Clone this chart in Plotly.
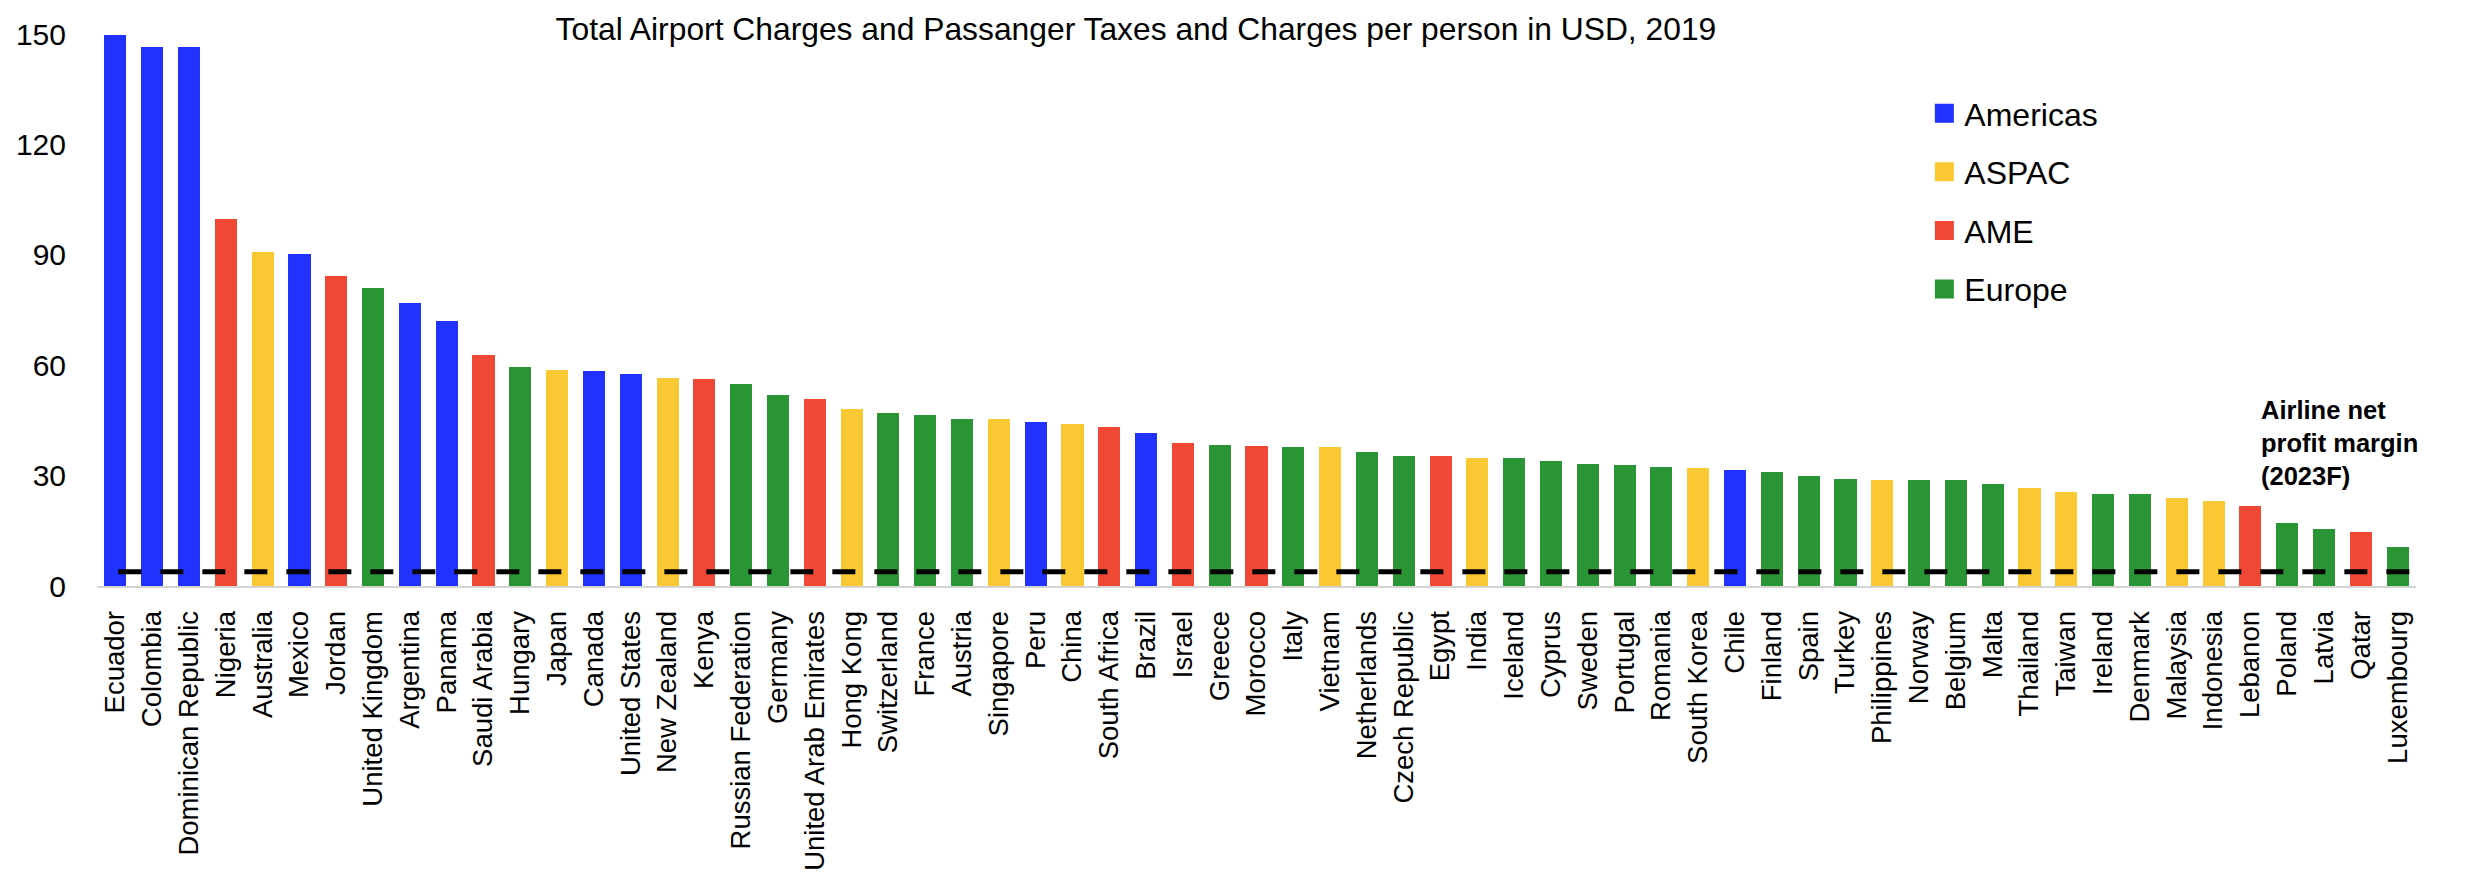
import plotly.graph_objects as go

categories = ["Ecuador", "Colombia", "Dominican Republic", "Nigeria", "Australia", "Mexico", "Jordan",
              "United Kingdom", "Argentina", "Panama", "Saudi Arabia", "Hungary", "Japan", "Canada",
              "United States", "New Zealand", "Kenya", "Russian Federation", "Germany",
              "United Arab Emirates", "Hong Kong", "Switzerland", "France", "Austria", "Singapore",
              "Peru", "China", "South Africa", "Brazil", "Israel", "Greece", "Morocco", "Italy",
              "Vietnam", "Netherlands", "Czech Republic", "Egypt", "India", "Iceland", "Cyprus",
              "Sweden", "Portugal", "Romania", "South Korea", "Chile", "Finland", "Spain", "Turkey",
              "Philippines", "Norway", "Belgium", "Malta", "Thailand", "Taiwan", "Ireland", "Denmark",
              "Malaysia", "Indonesia", "Lebanon", "Poland", "Latvia", "Qatar", "Luxembourg"]

values = [149.8, 146.6, 146.4, 99.6, 90.7, 90.1, 84.3,
          80.9, 76.8, 72.0, 62.9, 59.6, 58.6, 58.3,
          57.7, 56.5, 56.3, 54.8, 51.8,
          50.9, 48.1, 46.9, 46.5, 45.3, 45.3,
          44.5, 44.1, 43.1, 41.5, 38.8, 38.3, 38.0, 37.9,
          37.9, 36.4, 35.2, 35.2, 34.9, 34.7, 34.1,
          33.1, 32.9, 32.4, 32.0, 31.5, 31.0, 30.0, 29.0,
          28.8, 28.8, 28.8, 27.7, 26.7, 25.6, 25.0, 24.9,
          23.8, 23.2, 21.8, 17.2, 15.4, 14.6, 10.7]

regions = ["Americas", "Americas", "Americas", "AME", "ASPAC", "Americas", "AME",
           "Europe", "Americas", "Americas", "AME", "Europe", "ASPAC", "Americas",
           "Americas", "ASPAC", "AME", "Europe", "Europe",
           "AME", "ASPAC", "Europe", "Europe", "Europe", "ASPAC",
           "Americas", "ASPAC", "AME", "Americas", "AME", "Europe", "AME", "Europe",
           "ASPAC", "Europe", "Europe", "AME", "ASPAC", "Europe", "Europe",
           "Europe", "Europe", "Europe", "ASPAC", "Americas", "Europe", "Europe", "Europe",
           "ASPAC", "Europe", "Europe", "Europe", "ASPAC", "ASPAC", "Europe", "Europe",
           "ASPAC", "ASPAC", "AME", "Europe", "Europe", "AME", "Europe"]

region_order = ["Americas", "ASPAC", "AME", "Europe"]
region_colors = {"Americas": "#2132FF", "ASPAC": "#FAC832", "AME": "#F04834", "Europe": "#2A9534"}

profit_margin = 3.9
y_ticks = [0, 30, 60, 90, 120, 150]

FONT = "Liberation Sans"

fig = go.Figure()
for reg in region_order:
    xs = [c for c, r in zip(categories, regions) if r == reg]
    ys = [v for v, r in zip(values, regions) if r == reg]
    fig.add_trace(go.Bar(x=xs, y=ys, name=reg, marker=dict(color=region_colors[reg], line_width=0),
                         showlegend=False, legendgroup=reg))
    fig.add_trace(go.Scatter(x=[None], y=[None], mode="markers", name=reg, legendgroup=reg,
                             marker=dict(symbol="square", size=16, color=region_colors[reg],
                                         line=dict(color=region_colors[reg], width=3))))

n = len(categories)
fig.add_shape(type="line", xref="x", yref="y", x0=0.08, x1=n - 1 + 0.33,
              y0=profit_margin, y1=profit_margin,
              line=dict(color="black", width=5, dash="23px,19px"))

fig.add_annotation(text="<b>Airline net<br>profit margin<br>(2023F)</b>", xref="paper", yref="y",
                   x=0.9325, y=52.3, xanchor="left", yanchor="top", align="left", showarrow=False,
                   font=dict(family=FONT, size=25.5, color="black"))

# the page body adds an 8px offset, so the figure is 8px smaller than the window
fig.update_layout(
    width=2460, height=867,
    margin=dict(l=89, r=52, t=26, b=289),
    plot_bgcolor="white", paper_bgcolor="white",
    barmode="stack", bargap=0.4,
    font=dict(family=FONT, size=29, color="black"),
    title=dict(text="Total Airport Charges and Passanger Taxes and Charges per person in USD, 2019",
               xref="container", x=0.2226, xanchor="left", y=0.976, yanchor="middle",
               font=dict(family=FONT, size=31.8, color="black")),
    legend=dict(x=0.788, xanchor="left", y=0.906, yanchor="top", font=dict(family=FONT, size=32),
                itemsizing="trace", tracegroupgap=14, bgcolor="rgba(0,0,0,0)"),
    xaxis=dict(categoryorder="array", categoryarray=categories, tickangle=-90,
               tickfont=dict(family=FONT, size=27.5), showline=True, linecolor="#d4d4d4", linewidth=2,
               showgrid=False, ticks="", ticklabelstandoff=12, range=[-0.5, n - 0.5],
               automargin=False),
    yaxis=dict(range=[0, 150], tickvals=y_ticks, showgrid=False, zeroline=False, showline=False,
               tickfont=dict(family=FONT, size=30), ticklabelstandoff=30, automargin=False),
)

fig.write_html("out.html")
